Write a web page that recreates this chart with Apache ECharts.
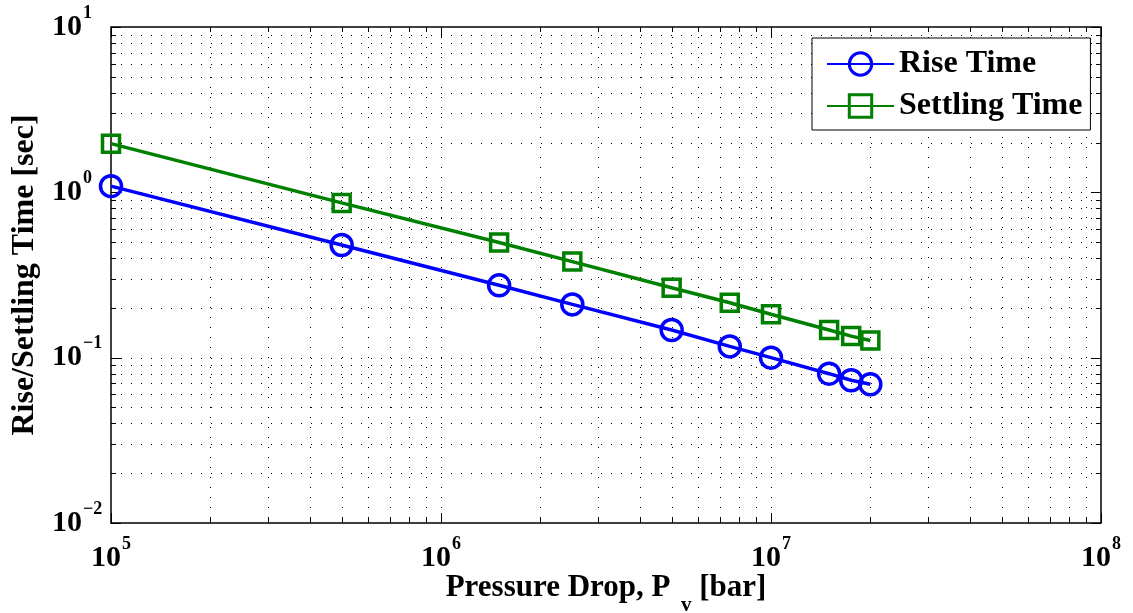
<!DOCTYPE html>
<html><head><meta charset="utf-8">
<script src="https://cdn.jsdelivr.net/npm/echarts@6/dist/echarts.min.js"></script>
<style>html,body{margin:0;padding:0;background:#fff}#c{width:1133px;height:613px}</style>
</head><body><div id="c"></div>
<script>
// ---- data ----
const pressure = [1e5, 5e5, 1.5e6, 2.5e6, 5e6, 7.5e6, 1e7, 1.5e7, 1.75e7, 2e7];
const riseTime = [1.09, 0.48, 0.274, 0.21, 0.147, 0.117, 0.100, 0.080, 0.073, 0.069];
const settlingTime = [1.97, 0.863, 0.497, 0.381, 0.265, 0.215, 0.183, 0.147, 0.135, 0.127];
const xDecades = [5, 6, 7, 8];
const yDecades = [-2, -1, 0, 1];
const minorMultipliers = [2, 3, 4, 5, 6, 7, 8, 9];
const seriesNames = ['Rise Time', 'Settling Time'];

const FONT = 'Liberation Serif';
const xMin = Math.pow(10, xDecades[0]), xMax = Math.pow(10, xDecades[xDecades.length - 1]);
const yMin = Math.pow(10, yDecades[0]), yMax = Math.pow(10, yDecades[yDecades.length - 1]);

function tickValues(decades) {
  const out = [];
  decades.forEach((d, i) => {
    out.push([Math.pow(10, d), 1]);
    if (i < decades.length - 1) minorMultipliers.forEach(m => out.push([m * Math.pow(10, d), 0]));
  });
  return out;
}
const xTicks = tickValues(xDecades);
const yTicks = tickValues(yDecades);

const DOT = { stroke: '#000', lineWidth: 1, lineDash: [1, 9] };
const TICK = { stroke: '#000', lineWidth: 1 };

function xGrid(params, api) {
  const v = api.value(0), major = api.value(2) === 1;
  const b = api.coord([v, yMin]), t = api.coord([v, yMax]);
  const x = Math.round(b[0]) + 0.5;
  const len = major ? 10 : 5;
  const ch = [];
  if (v > xMin && v < xMax) ch.push({ type: 'line', shape: { x1: x, y1: t[1], x2: x, y2: b[1] }, style: DOT });
  ch.push({ type: 'line', shape: { x1: x, y1: b[1], x2: x, y2: b[1] - len }, style: TICK });
  ch.push({ type: 'line', shape: { x1: x, y1: t[1], x2: x, y2: t[1] + len }, style: TICK });
  return { type: 'group', children: ch };
}
function yGrid(params, api) {
  const v = api.value(1), major = api.value(2) === 1;
  const l = api.coord([xMin, v]), r = api.coord([xMax, v]);
  const y = Math.round(l[1]) + 0.5;
  const len = major ? 10 : 5;
  const ch = [];
  if (v > yMin && v < yMax) ch.push({ type: 'line', shape: { x1: l[0], y1: y, x2: r[0], y2: y }, style: DOT });
  ch.push({ type: 'line', shape: { x1: l[0], y1: y, x2: l[0] + len, y2: y }, style: TICK });
  ch.push({ type: 'line', shape: { x1: r[0], y1: y, x2: r[0] - len, y2: y }, style: TICK });
  return { type: 'group', children: ch };
}

const powLabel = v => {
  const e = Math.round(Math.log10(v));
  return '{b|10}{s|' + String(e).replace('-', '\u2212') + '}';
};
const labelRich = {
  b: { fontFamily: FONT, fontWeight: 'bold', fontSize: 30, lineHeight: 46, color: '#000' },
  s: { fontFamily: FONT, fontWeight: 'bold', fontSize: 18, verticalAlign: 'top', padding: [0, 0, 0, 1], color: '#000' }
};

const chart = echarts.init(document.getElementById('c'));
chart.setOption({
  animation: false,
  backgroundColor: '#fff',
  grid: { left: 111, right: 32, top: 27, bottom: 90, containLabel: false, outerBoundsMode: 'none',
    show: true, borderColor: '#000', borderWidth: 1.5, backgroundColor: 'transparent' },
  xAxis: {
    type: 'log', logBase: 10, min: xMin, max: xMax,
    axisLine: { show: false }, axisTick: { show: false }, splitLine: { show: false }, minorTick: { show: false },
    axisLabel: { formatter: powLabel, rich: labelRich, margin: 12, showMinLabel: true, showMaxLabel: true },
    name: '{t|Pressure Drop, P}{sub|\u2002v}{t| [bar]}',
    nameLocation: 'middle', nameGap: 49, nameMoveOverlap: false,
    nameTextStyle: {
      rich: {
        t: { fontFamily: FONT, fontWeight: 'bold', fontSize: 31, lineHeight: 31, verticalAlign: 'top', color: '#000' },
        sub: { fontFamily: FONT, fontWeight: 'bold', fontSize: 21, lineHeight: 44, verticalAlign: 'bottom', color: '#000' }
      }
    }
  },
  yAxis: {
    type: 'log', logBase: 10, min: yMin, max: yMax,
    axisLine: { show: false }, axisTick: { show: false }, splitLine: { show: false }, minorTick: { show: false },
    axisLabel: { formatter: powLabel, rich: labelRich, margin: 59, align: 'left', showMinLabel: true, showMaxLabel: true },
    name: 'Rise/Settling Time [sec]',
    nameLocation: 'middle', nameGap: 70, nameMoveOverlap: false,
    nameTextStyle: { fontFamily: FONT, fontWeight: 'bold', fontSize: 32, color: '#000' }
  },
  legend: {
    data: seriesNames,
    orient: 'vertical', left: 812, top: 38,
    backgroundColor: '#fff', borderColor: '#000', borderWidth: 1, borderRadius: 0,
    padding: [10, 8, 8, 14], itemGap: 10, itemWidth: 67, itemHeight: 28,
    itemStyle: { borderWidth: 3 },
    textStyle: { fontFamily: FONT, fontWeight: 'bold', fontSize: 32, lineHeight: 26, color: '#000' }
  },
  series: [
    { type: 'custom', coordinateSystem: 'cartesian2d', renderItem: xGrid, silent: true, z: 1,
      encode: { x: 0, y: 1 }, data: xTicks.map(t => [t[0], yMin, t[1]]) },
    { type: 'custom', coordinateSystem: 'cartesian2d', renderItem: yGrid, silent: true, z: 1,
      encode: { x: 0, y: 1 }, data: yTicks.map(t => [xMin, t[0], t[1]]) },
    { name: seriesNames[0], type: 'line', z: 3, symbol: 'circle', symbolSize: 21,
      data: pressure.map((p, i) => [p, riseTime[i]]),
      lineStyle: { color: '#0000ff', width: 3.5 },
      itemStyle: { color: 'rgba(0,0,0,0)', borderColor: '#0000ff', borderWidth: 3.5 } },
    { name: seriesNames[1], type: 'line', z: 3, symbol: 'rect', symbolSize: 17,
      data: pressure.map((p, i) => [p, settlingTime[i]]),
      lineStyle: { color: '#008000', width: 3.5 },
      itemStyle: { color: 'rgba(0,0,0,0)', borderColor: '#008000', borderWidth: 3.5 } }
  ]
});
</script></body></html>
